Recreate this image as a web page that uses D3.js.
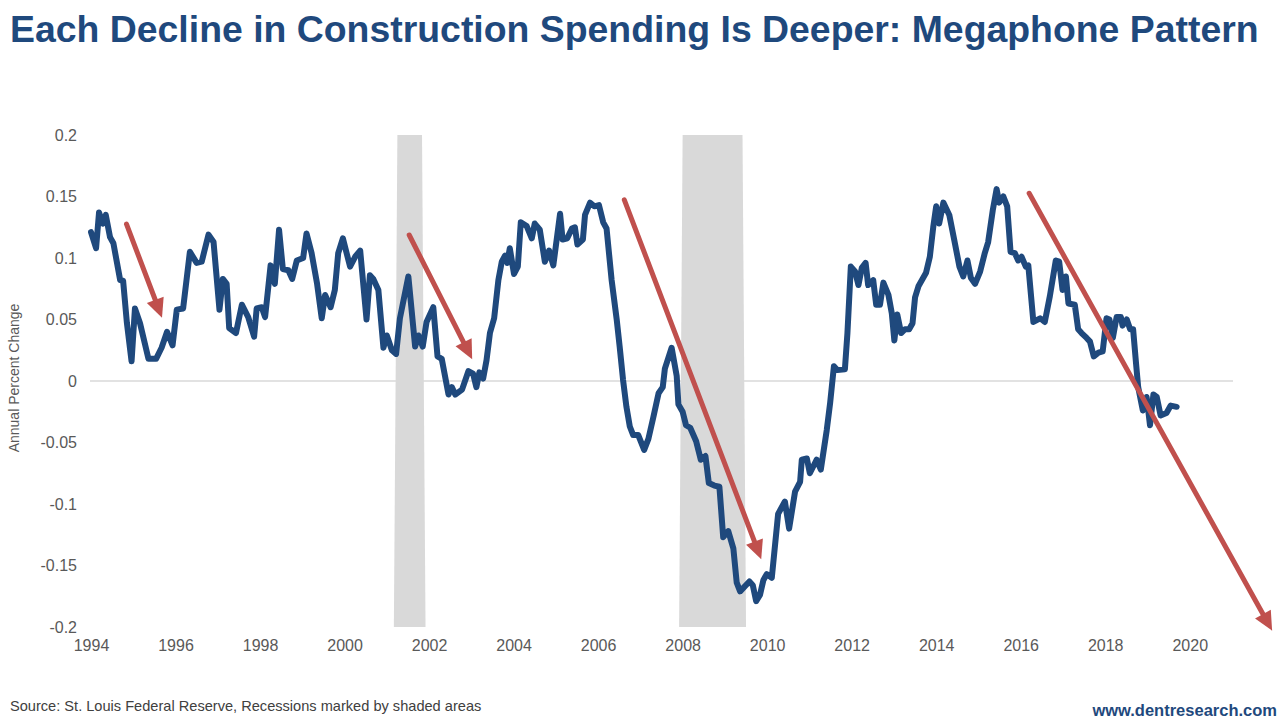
<!DOCTYPE html>
<html>
<head>
<meta charset="utf-8">
<script src="https://cdn.jsdelivr.net/npm/d3@7"></script>
<style>
  html, body { margin: 0; padding: 0; background: #ffffff; }
  svg { display: block; font-family: "Liberation Sans", Arial, sans-serif; }
</style>
</head>
<body>
<svg id="chart" width="1280" height="720"></svg>
<script>
// ---------- data ----------
const years = [
  1994.00,1994.12,1994.19,1994.28,1994.35,1994.45,1994.53,1994.69,1994.76,1994.85,1994.96,
  1995.04,1995.16,1995.36,1995.54,1995.67,1995.80,1995.93,
  1996.03,1996.18,1996.34,1996.50,1996.62,1996.78,1996.90,
  1997.04,1997.12,1997.21,1997.27,1997.43,1997.57,1997.72,1997.86,1997.92,
  1998.04,1998.12,1998.25,1998.35,1998.45,1998.54,1998.67,1998.76,1998.87,
  1999.02,1999.10,1999.22,1999.35,1999.46,1999.54,1999.67,1999.77,1999.85,1999.96,
  2000.13,2000.25,2000.37,2000.52,2000.60,2000.68,2000.80,2000.92,
  2001.00,2001.12,2001.22,2001.31,2001.51,2001.67,2001.75,2001.85,2001.94,
  2002.10,2002.20,2002.30,2002.46,2002.54,2002.62,2002.78,2002.93,
  2003.04,2003.12,2003.19,2003.28,2003.36,2003.44,2003.54,2003.64,2003.72,2003.80,2003.85,2003.91,
  2004.01,2004.10,2004.17,2004.31,2004.43,2004.50,2004.62,2004.74,2004.84,2004.94,
  2005.10,2005.16,2005.27,2005.38,2005.45,2005.51,2005.64,2005.69,2005.81,2005.91,
  2006.02,2006.12,2006.20,2006.32,2006.44,2006.51,2006.59,2006.67,2006.75,2006.83,2006.95,
  2007.09,2007.19,2007.31,2007.43,2007.53,2007.58,2007.74,2007.86,2007.90,
  2008.00,2008.08,2008.18,2008.32,2008.43,2008.54,2008.62,2008.75,2008.87,2008.96,
  2009.08,2009.20,2009.28,2009.36,2009.58,2009.66,2009.74,2009.83,2009.91,2009.99,
  2010.11,2010.26,2010.42,2010.52,2010.66,2010.78,2010.82,2010.94,
  2011.01,2011.17,2011.27,2011.41,2011.49,2011.58,2011.66,2011.84,2011.90,2011.98,
  2012.08,2012.16,2012.24,2012.33,2012.39,2012.51,2012.58,2012.67,2012.75,2012.87,2012.95,
  2013.01,2013.08,2013.17,2013.26,2013.36,2013.44,2013.50,2013.58,2013.76,2013.85,2013.93,
  2014.00,2014.07,2014.17,2014.31,2014.42,2014.55,2014.64,2014.74,2014.82,2014.92,
  2015.04,2015.15,2015.23,2015.34,2015.43,2015.49,2015.59,2015.68,2015.76,2015.86,2015.94,
  2016.02,2016.12,2016.18,2016.30,2016.46,2016.57,2016.69,2016.83,2016.91,2016.99,
  2017.07,2017.13,2017.28,2017.36,2017.44,2017.56,2017.64,2017.73,2017.84,2017.94,
  2018.03,2018.10,2018.18,2018.27,2018.37,2018.41,2018.51,2018.59,2018.66,2018.73,2018.78,2018.89,2018.98,
  2019.06,2019.14,2019.22,2019.31,2019.45,2019.55,2019.69
];
const values = [
  0.121,0.108,0.137,0.128,0.135,0.117,0.112,0.082,0.0815,0.047,0.016,
  0.059,0.047,0.018,0.018,0.027,0.040,0.029,
  0.058,0.059,0.105,0.096,0.097,0.119,0.113,
  0.058,0.083,0.079,0.043,0.039,0.062,0.052,0.036,0.059,
  0.060,0.052,0.094,0.079,0.123,0.091,0.090,0.083,0.098,
  0.100,0.120,0.104,0.079,0.051,0.070,0.060,0.074,0.104,0.116,
  0.093,0.101,0.106,0.050,0.086,0.083,0.074,0.027,
  0.037,0.025,0.022,0.051,0.085,0.028,0.037,0.028,0.048,
  0.060,0.020,0.018,-0.011,-0.005,-0.011,-0.007,0.008,
  0.006,-0.005,0.007,0.002,0.017,0.039,0.051,0.082,0.097,0.102,0.096,0.108,
  0.087,0.093,0.129,0.126,0.116,0.128,0.123,0.097,0.106,0.094,
  0.136,0.115,0.116,0.124,0.125,0.111,0.115,0.135,0.145,0.142,
  0.143,0.129,0.124,0.082,0.050,0.028,0.001,-0.021,-0.037,-0.044,-0.044,
  -0.056,-0.047,-0.029,-0.010,-0.005,0.010,0.027,0.004,-0.019,
  -0.025,-0.036,-0.038,-0.049,-0.064,-0.061,-0.083,-0.085,-0.086,-0.127,
  -0.122,-0.136,-0.164,-0.171,-0.163,-0.166,-0.179,-0.174,-0.162,-0.157,
  -0.160,-0.108,-0.098,-0.120,-0.090,-0.082,-0.064,-0.063,
  -0.075,-0.064,-0.072,-0.040,-0.018,0.012,0.009,0.0095,0.039,0.093,
  0.089,0.078,0.092,0.096,0.078,0.082,0.062,0.062,0.080,0.070,0.055,
  0.033,0.054,0.039,0.042,0.042,0.047,0.068,0.077,0.088,0.101,0.125,
  0.142,0.128,0.145,0.135,0.116,0.093,0.085,0.098,0.084,0.079,
  0.089,0.104,0.113,0.139,0.156,0.145,0.150,0.142,0.105,0.104,0.098,
  0.101,0.093,0.094,0.048,0.051,0.048,0.069,0.098,0.097,0.074,
  0.085,0.063,0.062,0.042,0.039,0.035,0.032,0.020,0.023,0.024,
  0.051,0.050,0.035,0.052,0.052,0.045,0.050,0.042,0.042,0.014,-0.005,-0.024,-0.013,
  -0.036,-0.011,-0.013,-0.028,-0.026,-0.020,-0.021
];

// recessions (first and last recession month, decimal years)
const recessionStarts = [2001.25, 2008.00];
const recessionEnds   = [2001.833, 2009.417];

// annotation arrows (data space)
const arrowFromYear = [1994.84, 2001.53, 2006.62, 2016.20];
const arrowFromVal  = [0.1275, 0.1187, 0.1472, 0.1526];
const arrowToYear   = [1995.68, 2003.02, 2009.86, 2021.95];
const arrowToVal    = [0.0515, 0.0177, -0.1450, -0.2030];

const xTickYears = [1994,1996,1998,2000,2002,2004,2006,2008,2010,2012,2014,2016,2018,2020];
const yTickValues = [0.2,0.15,0.1,0.05,0,-0.05,-0.1,-0.15,-0.2];

const titleText = "Each Decline in Construction Spending Is Deeper: Megaphone Pattern";
const yAxisTitle = "Annual Percent Change";
const sourceText = "Source: St. Louis Federal Reserve, Recessions marked by shaded areas";
const siteText = "www.dentresearch.com";

// ---------- drawing ----------
const svg = d3.select("#chart");
const BLUE = "#1F497D", RED = "#C0504D", GREY = "#D9D9D9", TXT = "#595959";

const x = d3.scaleLinear().domain([1994, 2021]).range([91, 1232]);
const y = d3.scaleLinear().domain([-0.2, 0.2]).range([627, 135]);

svg.append("rect").attr("width", 1280).attr("height", 720).attr("fill", "#fff");

// title
svg.append("text").attr("x", 10).attr("y", 42)
  .attr("font-size", 37.4).attr("font-weight", "bold").attr("fill", BLUE)
  .text(titleText);

// recession bands (area-chart style: one month slant on each side)
const month = 1 / 12;
svg.append("g").selectAll("polygon")
  .data(recessionStarts.map((s, i) => [s, recessionEnds[i]]))
  .join("polygon")
  .attr("fill", GREY)
  .attr("points", d => [
    [x(d[0] - month), y(-0.2)], [x(d[0]), y(0.2)],
    [x(d[1]), y(0.2)], [x(d[1] + month), y(-0.2)]
  ].map(p => p.join(",")).join(" "));

// zero line
svg.append("line")
  .attr("x1", x.range()[0] - 1).attr("x2", x.range()[1] + 1)
  .attr("y1", y(0)).attr("y2", y(0))
  .attr("stroke", GREY).attr("stroke-width", 1.3);

// y axis labels (plain hyphen minus, as in the reference)
const yAxis = d3.axisLeft(y).tickValues(yTickValues).tickSize(0).tickPadding(0)
  .tickFormat(d => String(+d.toFixed(2)));
const yg = svg.append("g").attr("transform", "translate(77,0)").call(yAxis);
yg.select(".domain").remove();
yg.selectAll("text").attr("font-size", 16).attr("fill", TXT)
  .attr("font-family", "Liberation Sans, Arial, sans-serif");

// x axis labels
const xAxis = d3.axisBottom(x).tickValues(xTickYears).tickSize(0).tickPadding(0)
  .tickFormat(d3.format("d"));
const xg = svg.append("g").attr("transform", "translate(0,640)").call(xAxis);
xg.select(".domain").remove();
xg.selectAll("text").attr("font-size", 16).attr("fill", TXT)
  .attr("font-family", "Liberation Sans, Arial, sans-serif");

// y axis title
svg.append("text")
  .attr("transform", "translate(19,378) rotate(-90)")
  .attr("text-anchor", "middle").attr("font-size", 14).attr("fill", TXT)
  .text(yAxisTitle);

// data line
const pts = years.map((yr, i) => [yr, values[i]]);
svg.append("path").datum(pts)
  .attr("fill", "none").attr("stroke", BLUE).attr("stroke-width", 6)
  .attr("stroke-linejoin", "round").attr("stroke-linecap", "round")
  .attr("d", d3.line().x(d => x(d[0])).y(d => y(d[1])));

// arrows
const headLen = 19, headHalf = 9;
const ag = svg.append("g");
arrowFromYear.forEach((_, i) => {
  const x1 = x(arrowFromYear[i]), y1 = y(arrowFromVal[i]);
  const x2 = x(arrowToYear[i]),   y2 = y(arrowToVal[i]);
  const dx = x2 - x1, dy = y2 - y1, L = Math.hypot(dx, dy);
  const ux = dx / L, uy = dy / L;
  const bx = x2 - ux * headLen, by = y2 - uy * headLen;
  ag.append("line")
    .attr("x1", x1).attr("y1", y1).attr("x2", bx + ux * 2).attr("y2", by + uy * 2)
    .attr("stroke", RED).attr("stroke-width", 5).attr("stroke-linecap", "round");
  ag.append("polygon").attr("fill", RED)
    .attr("points", [[x2, y2], [bx - uy * headHalf, by + ux * headHalf], [bx + uy * headHalf, by - ux * headHalf]]
      .map(p => p.join(",")).join(" "));
});

// footer
svg.append("text").attr("x", 10).attr("y", 711)
  .attr("font-size", 14.6).attr("fill", "#404040").text(sourceText);
svg.append("text").attr("x", 1277).attr("y", 716).attr("text-anchor", "end")
  .attr("font-size", 16.5).attr("font-weight", "bold").attr("fill", BLUE).text(siteText);
</script>
</body>
</html>
